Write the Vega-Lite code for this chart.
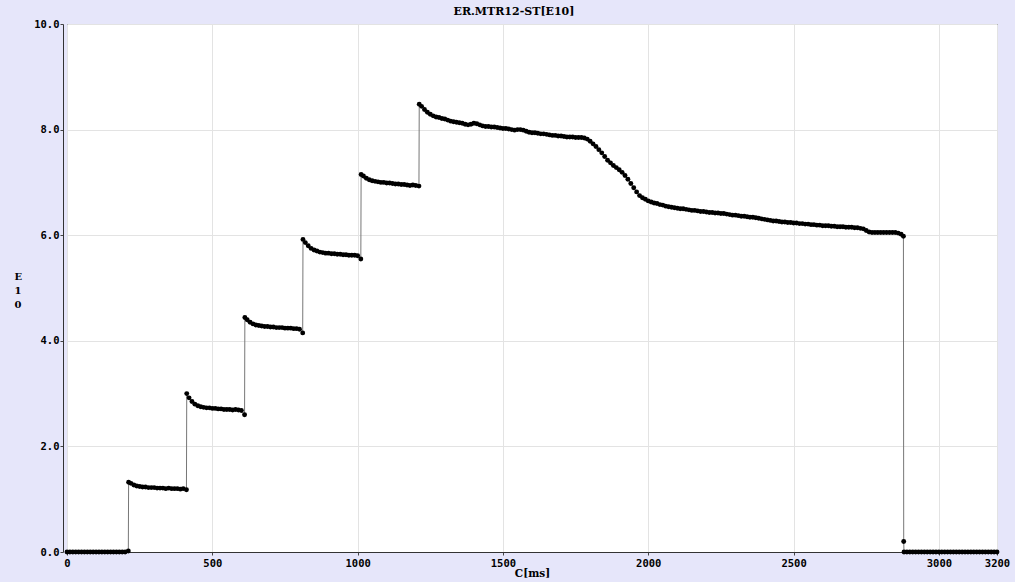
{
  "$schema": "https://vega.github.io/schema/vega-lite/v6.json",
  "width": 930,
  "height": 528,
  "autosize": {"type": "none"},
  "padding": {"left": 67, "top": 24, "right": 18, "bottom": 30},
  "background": "#e6e6fa",
  "title": {"text": "ER.MTR12-ST[E10]", "font": "DejaVu Serif", "fontSize": 11, "fontWeight": "bold", "color": "#000000", "anchor": "middle", "frame": "group", "offset": 2, "dx": -18},
  "config": {
    "view": {"fill": "#ffffff", "stroke": "#000000", "strokeWidth": 1},
    "axis": {"labelFont": "DejaVu Sans Mono", "labelFontSize": 10.5, "labelFontWeight": "bold", "labelColor": "#000000", "titleFont": "DejaVu Serif", "titleFontSize": 10.5, "titleFontWeight": "bold", "titleColor": "#000000", "gridColor": "#e3e3e3", "gridWidth": 1, "tickColor": "#444444", "domainColor": "#333333", "tickSize": 3}
  },
  "data": {"values": [
    {"t":0,"v":0},{"t":10,"v":0},{"t":20,"v":0},{"t":30,"v":0},{"t":40,"v":0},{"t":50,"v":0},{"t":60,"v":0},{"t":70,"v":0},{"t":80,"v":0},{"t":90,"v":0},{"t":100,"v":0},{"t":110,"v":0},{"t":120,"v":0},{"t":130,"v":0},{"t":140,"v":0},{"t":150,"v":0},{"t":160,"v":0},{"t":170,"v":0},{"t":180,"v":0},{"t":190,"v":0},{"t":200,"v":0},{"t":211,"v":0.02},
    {"t":212,"v":1.32},{"t":220,"v":1.30},{"t":230,"v":1.27},{"t":240,"v":1.25},{"t":250,"v":1.24},{"t":260,"v":1.23},{"t":270,"v":1.23},{"t":280,"v":1.22},{"t":290,"v":1.22},{"t":300,"v":1.22},{"t":310,"v":1.21},{"t":320,"v":1.21},{"t":330,"v":1.21},{"t":340,"v":1.20},{"t":350,"v":1.21},{"t":360,"v":1.20},{"t":370,"v":1.20},{"t":380,"v":1.20},{"t":390,"v":1.19},{"t":400,"v":1.20},{"t":411,"v":1.18},
    {"t":412,"v":3.00},{"t":420,"v":2.92},{"t":430,"v":2.85},{"t":440,"v":2.80},{"t":450,"v":2.77},{"t":460,"v":2.75},{"t":470,"v":2.74},{"t":480,"v":2.73},{"t":490,"v":2.73},{"t":500,"v":2.72},{"t":510,"v":2.72},{"t":520,"v":2.71},{"t":530,"v":2.71},{"t":540,"v":2.70},{"t":550,"v":2.70},{"t":560,"v":2.70},{"t":570,"v":2.69},{"t":580,"v":2.70},{"t":590,"v":2.69},{"t":600,"v":2.68},{"t":611,"v":2.60},
    {"t":612,"v":4.44},{"t":620,"v":4.40},{"t":630,"v":4.35},{"t":640,"v":4.32},{"t":650,"v":4.30},{"t":660,"v":4.29},{"t":670,"v":4.28},{"t":680,"v":4.27},{"t":690,"v":4.27},{"t":700,"v":4.26},{"t":710,"v":4.26},{"t":720,"v":4.25},{"t":730,"v":4.25},{"t":740,"v":4.25},{"t":750,"v":4.24},{"t":760,"v":4.24},{"t":770,"v":4.24},{"t":780,"v":4.23},{"t":790,"v":4.23},{"t":800,"v":4.22},{"t":811,"v":4.15},
    {"t":812,"v":5.92},{"t":820,"v":5.86},{"t":830,"v":5.80},{"t":840,"v":5.75},{"t":850,"v":5.72},{"t":860,"v":5.70},{"t":870,"v":5.68},{"t":880,"v":5.67},{"t":890,"v":5.66},{"t":900,"v":5.66},{"t":910,"v":5.65},{"t":920,"v":5.65},{"t":930,"v":5.64},{"t":940,"v":5.64},{"t":950,"v":5.63},{"t":960,"v":5.63},{"t":970,"v":5.62},{"t":980,"v":5.62},{"t":990,"v":5.62},{"t":1000,"v":5.61},{"t":1011,"v":5.55},
    {"t":1012,"v":7.15},{"t":1020,"v":7.12},{"t":1030,"v":7.08},{"t":1040,"v":7.05},{"t":1050,"v":7.03},{"t":1060,"v":7.02},{"t":1070,"v":7.01},{"t":1080,"v":7.00},{"t":1090,"v":7.00},{"t":1100,"v":6.99},{"t":1110,"v":6.99},{"t":1120,"v":6.98},{"t":1130,"v":6.97},{"t":1140,"v":6.97},{"t":1150,"v":6.96},{"t":1160,"v":6.96},{"t":1170,"v":6.95},{"t":1180,"v":6.94},{"t":1190,"v":6.95},{"t":1200,"v":6.94},{"t":1211,"v":6.93},
    {"t":1212,"v":8.48},{"t":1220,"v":8.44},{"t":1230,"v":8.38},{"t":1240,"v":8.33},{"t":1250,"v":8.29},{"t":1260,"v":8.26},{"t":1270,"v":8.24},{"t":1280,"v":8.23},{"t":1290,"v":8.21},{"t":1300,"v":8.20},{"t":1310,"v":8.18},{"t":1320,"v":8.16},{"t":1330,"v":8.15},{"t":1340,"v":8.14},{"t":1350,"v":8.13},{"t":1360,"v":8.12},{"t":1370,"v":8.10},{"t":1380,"v":8.09},{"t":1390,"v":8.10},{"t":1400,"v":8.12},{"t":1410,"v":8.11},{"t":1420,"v":8.09},{"t":1430,"v":8.07},{"t":1440,"v":8.06},{"t":1450,"v":8.06},{"t":1460,"v":8.05},{"t":1470,"v":8.05},{"t":1480,"v":8.04},{"t":1490,"v":8.03},{"t":1500,"v":8.02},{"t":1510,"v":8.02},{"t":1520,"v":8.01},{"t":1530,"v":8.00},{"t":1540,"v":7.99},{"t":1550,"v":8.00},{"t":1560,"v":8.00},{"t":1570,"v":7.99},{"t":1580,"v":7.97},{"t":1590,"v":7.95},{"t":1600,"v":7.94},{"t":1610,"v":7.94},{"t":1620,"v":7.93},{"t":1630,"v":7.92},{"t":1640,"v":7.92},{"t":1650,"v":7.91},{"t":1660,"v":7.90},{"t":1670,"v":7.89},{"t":1680,"v":7.89},{"t":1690,"v":7.88},{"t":1700,"v":7.88},{"t":1710,"v":7.87},{"t":1720,"v":7.86},{"t":1730,"v":7.86},{"t":1740,"v":7.86},{"t":1750,"v":7.85},{"t":1760,"v":7.85},{"t":1770,"v":7.85},{"t":1780,"v":7.84},{"t":1790,"v":7.82},{"t":1800,"v":7.78},{"t":1810,"v":7.73},{"t":1820,"v":7.68},{"t":1830,"v":7.62},{"t":1840,"v":7.56},{"t":1850,"v":7.49},{"t":1860,"v":7.42},{"t":1870,"v":7.37},{"t":1880,"v":7.32},{"t":1890,"v":7.28},{"t":1900,"v":7.24},{"t":1910,"v":7.19},{"t":1920,"v":7.13},{"t":1930,"v":7.06},{"t":1940,"v":6.98},{"t":1950,"v":6.90},{"t":1960,"v":6.82},{"t":1970,"v":6.75},{"t":1980,"v":6.71},{"t":1990,"v":6.68},{"t":2000,"v":6.65},{"t":2010,"v":6.63},{"t":2020,"v":6.61},{"t":2030,"v":6.60},{"t":2040,"v":6.58},{"t":2050,"v":6.57},{"t":2060,"v":6.55},{"t":2070,"v":6.54},{"t":2080,"v":6.53},{"t":2090,"v":6.52},{"t":2100,"v":6.51},{"t":2110,"v":6.50},{"t":2120,"v":6.50},{"t":2130,"v":6.49},{"t":2140,"v":6.48},{"t":2150,"v":6.47},{"t":2160,"v":6.47},{"t":2170,"v":6.46},{"t":2180,"v":6.45},{"t":2190,"v":6.45},{"t":2200,"v":6.44},{"t":2210,"v":6.43},{"t":2220,"v":6.43},{"t":2230,"v":6.42},{"t":2240,"v":6.42},{"t":2250,"v":6.41},{"t":2260,"v":6.41},{"t":2270,"v":6.40},{"t":2280,"v":6.39},{"t":2290,"v":6.38},{"t":2300,"v":6.38},{"t":2310,"v":6.37},{"t":2320,"v":6.36},{"t":2330,"v":6.36},{"t":2340,"v":6.35},{"t":2350,"v":6.34},{"t":2360,"v":6.34},{"t":2370,"v":6.33},{"t":2380,"v":6.32},{"t":2390,"v":6.31},{"t":2400,"v":6.30},{"t":2410,"v":6.29},{"t":2420,"v":6.28},{"t":2430,"v":6.27},{"t":2440,"v":6.27},{"t":2450,"v":6.26},{"t":2460,"v":6.25},{"t":2470,"v":6.25},{"t":2480,"v":6.24},{"t":2490,"v":6.24},{"t":2500,"v":6.23},{"t":2510,"v":6.23},{"t":2520,"v":6.22},{"t":2530,"v":6.22},{"t":2540,"v":6.21},{"t":2550,"v":6.21},{"t":2560,"v":6.20},{"t":2570,"v":6.20},{"t":2580,"v":6.19},{"t":2590,"v":6.19},{"t":2600,"v":6.18},{"t":2610,"v":6.18},{"t":2620,"v":6.18},{"t":2630,"v":6.17},{"t":2640,"v":6.17},{"t":2650,"v":6.16},{"t":2660,"v":6.16},{"t":2670,"v":6.16},{"t":2680,"v":6.15},{"t":2690,"v":6.15},{"t":2700,"v":6.15},{"t":2710,"v":6.14},{"t":2720,"v":6.14},{"t":2730,"v":6.13},{"t":2740,"v":6.12},{"t":2750,"v":6.09},{"t":2760,"v":6.06},{"t":2770,"v":6.05},{"t":2780,"v":6.05},{"t":2790,"v":6.05},{"t":2800,"v":6.05},{"t":2810,"v":6.05},{"t":2820,"v":6.05},{"t":2830,"v":6.05},{"t":2840,"v":6.05},{"t":2850,"v":6.05},{"t":2860,"v":6.04},{"t":2870,"v":6.02},{"t":2878,"v":5.98},
    {"t":2879,"v":0.20},{"t":2880,"v":0},{"t":2890,"v":0},{"t":2900,"v":0},{"t":2910,"v":0},{"t":2920,"v":0},{"t":2930,"v":0},{"t":2940,"v":0},{"t":2950,"v":0},{"t":2960,"v":0},{"t":2970,"v":0},{"t":2980,"v":0},{"t":2990,"v":0},{"t":3000,"v":0},{"t":3010,"v":0},{"t":3020,"v":0},{"t":3030,"v":0},{"t":3040,"v":0},{"t":3050,"v":0},{"t":3060,"v":0},{"t":3070,"v":0},{"t":3080,"v":0},{"t":3090,"v":0},{"t":3100,"v":0},{"t":3110,"v":0},{"t":3120,"v":0},{"t":3130,"v":0},{"t":3140,"v":0},{"t":3150,"v":0},{"t":3160,"v":0},{"t":3170,"v":0},{"t":3180,"v":0},{"t":3190,"v":0},{"t":3200,"v":0}
  ]},
  "encoding": {
    "x": {"field": "t", "type": "quantitative", "scale": {"domain": [0, 3200], "nice": false, "zero": false},
      "axis": {"values": [0, 500, 1000, 1500, 2000, 2500, 3000, 3200], "format": "d", "title": "C[ms]", "labelPadding": 3, "titlePadding": 0, "grid": true, "labelFlush": false}},
    "y": {"field": "v", "type": "quantitative", "scale": {"domain": [0, 10], "nice": false},
      "axis": {"values": [0, 2, 4, 6, 8, 10], "format": ".1f", "offset": 4, "labelPadding": 1, "grid": true, "title": ["E", "1", "0"], "titleAngle": 0, "titleAlign": "left", "titleBaseline": "top", "titleX": -49, "titleY": 247, "titleLineHeight": 14, "titleFontSize": 10}}
  },
  "layer": [
    {"mark": {"type": "line", "color": "#777777", "strokeWidth": 1}},
    {"mark": {"type": "point", "filled": true, "color": "#000000", "size": 24, "opacity": 1}}
  ]
}
